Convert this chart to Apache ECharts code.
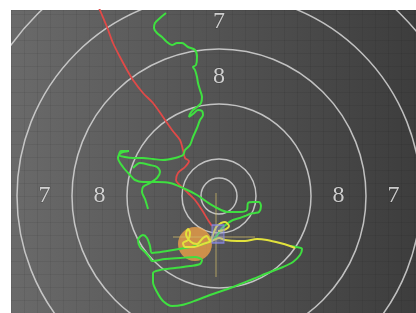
<!DOCTYPE html>
<html>
<head>
<meta charset="utf-8">
<script src="https://cdn.jsdelivr.net/npm/echarts@6/dist/echarts.min.js"></script>
<style>
html,body{margin:0;padding:0;background:#fff;}
#main{width:416px;height:313px;}
</style>
</head>
<body>
<div id="main"></div>
<script>
// target rings, offsets from the centre of the target (x right, y up)
var ringRadii = [18, 37, 92, 147, 202, 257];
var ringScores = [8, 7]; // label sits between ring i+2 and ring i+3

// approach trace (red)
var redTrace = [[-120,188],[-112,169],[-106,153],[-99,139],[-92,126],[-86,116],[-76,103],[-66,93],[-56,79],[-47,66],[-39,56],[-36,46],[-34,38],[-30,35],[-34,29],[-41,23],[-43,16],[-37,9],[-31,3],[-24,-4],[-17,-14],[-11,-24],[-7,-30]];

// aiming trace (green), split into pieces
var greenTop = [[-53,183],[-59,178],[-64,173],[-65,168],[-62,163],[-57,159],[-52,154],[-47,151],[-42,153],[-37,153],[-31,149],[-24,146],[-22,139],[-23,131],[-26,129],[-24,126],[-22,119],[-21,113],[-19,106],[-17,99],[-18,93],[-22,89],[-26,86],[-29,82],[-30,79],[-26,82],[-21,86],[-17,85],[-16,81],[-19,76],[-22,68],[-26,59],[-29,51],[-34,46],[-36,41],[-44,38],[-56,36],[-66,37],[-76,38],[-86,38],[-94,39],[-100,41],[-98,45],[-90,45]];
var greenMid = [[-90,45],[-98,43],[-101,38],[-96,29],[-89,21],[-84,16],[-76,14],[-62,14],[-49,13],[-36,8],[-22,1],[-12,-6],[-2,-12],[9,-16],[21,-16],[28,-14],[29,-7],[34,-6],[40,-6],[42,-10],[40,-16],[36,-17],[31,-18],[26,-20],[21,-22],[14,-24],[9,-27],[3,-32]];
var greenKnot = [[-86,28],[-79,33],[-69,31],[-62,29],[-59,24],[-62,18],[-69,13],[-76,9],[-77,4],[-74,-3],[-71,-13]];
var greenLow = [[3,-32],[-6,-44],[-19,-49],[-34,-52],[-52,-55],[-67,-57],[-69,-50],[-72,-42],[-76,-39],[-81,-44],[-79,-51],[-74,-56],[-69,-62],[-67,-65],[-54,-63],[-39,-62],[-24,-61],[-17,-64],[-19,-68],[-29,-70],[-44,-72],[-59,-74],[-66,-77],[-66,-86],[-62,-96],[-56,-105],[-47,-110],[-37,-109],[-22,-104],[-6,-98],[14,-91],[34,-83],[51,-76],[64,-71],[74,-66],[81,-59],[83,-53],[77,-51],[71,-50]];

// last second before the shot (yellow)
var yellowTrace = [[76,-52],[71,-50],[61,-47],[48,-44],[38,-43],[26,-45],[18,-45],[6,-44],[0,-42],[-7,-45],[-16,-48],[-26,-51],[-34,-51],[-36,-47],[-31,-44],[-29,-37],[-31,-33],[-33,-38],[-28,-46],[-22,-48],[-16,-42],[-12,-40],[-9,-45],[-5,-36],[-2,-30],[6,-26],[10,-30],[5,-34],[-1,-35]];

var groupCentre = [[-24,-48]];
var shotHole = [[-1,-38]];
var crossV = [[-3,3],[-3,-81]];
var crossH = [[-46,-41],[36,-41]];

// score labels go half way between rings
var labelData = [];
ringScores.forEach(function(s, i) {
	var r = (ringRadii[i+2] + ringRadii[i+3]) / 2;
	labelData.push([0, r, String(s)]);
	labelData.push([0, -r, String(s)]);
	labelData.push([-r, 0, String(s)]);
	labelData.push([r, 0, String(s)]);
});

function traceSeries(data, color, width) {
	return {
		type: 'line',
		data: data,
		showSymbol: false,
		smooth: 0.3,
		lineStyle: { color: color, width: width },
		z: 5
	};
}

var chart = echarts.init(document.getElementById('main'));
var option = {
	animation: false,
	backgroundColor: '#ffffff',
	grid: {
		left: 11, right: 0, top: 10, bottom: 0,
		show: true,
		borderWidth: 0,
		backgroundColor: new echarts.graphic.LinearGradient(0, 0, 1, 0, [
			{ offset: 0, color: '#6a6a6a' },
			{ offset: 1, color: '#3d3d3d' }
		])
	},
	xAxis: {
		type: 'value', min: -208, max: 197, interval: 13,
		axisLabel: { show: false }, axisLine: { show: false }, axisTick: { show: false },
		splitLine: { lineStyle: { color: 'rgba(0,0,0,0.06)', width: 1 } }
	},
	yAxis: {
		type: 'value', min: -117, max: 186, interval: 13,
		axisLabel: { show: false }, axisLine: { show: false }, axisTick: { show: false },
		splitLine: { lineStyle: { color: 'rgba(0,0,0,0.06)', width: 1 } }
	},
	series: [
		{
			type: 'custom',
			clip: true,
			data: ringRadii.map(function(r) { return [r, 0]; }),
			renderItem: function(params, api) {
				var c = api.coord([0, 0]);
				var r = api.size([api.value(0), 0])[0];
				return {
					type: 'circle',
					shape: { cx: c[0], cy: c[1], r: r },
					style: { fill: 'none', stroke: 'rgba(215,215,215,0.85)', lineWidth: 1.5 }
				};
			},
			z: 1
		},
		{
			type: 'scatter',
			data: labelData,
			symbolSize: 0,
			label: {
				show: true,
				position: 'inside',
				formatter: function(p) { return p.value[2]; },
				color: '#f0f0f0',
				fontFamily: 'Liberation Serif',
				fontSize: 24,
				textBorderColor: 'rgba(0,0,0,0.25)',
				textBorderWidth: 1
			},
			z: 2
		},
		{
			type: 'scatter',
			data: groupCentre,
			symbolSize: 34,
			itemStyle: { color: 'rgba(248,165,70,0.92)' },
			z: 3
		},
		{
			type: 'line', data: crossV, showSymbol: false,
			lineStyle: { color: 'rgba(205,185,105,0.75)', width: 1 }, z: 4
		},
		{
			type: 'line', data: crossH, showSymbol: false,
			lineStyle: { color: 'rgba(205,185,105,0.75)', width: 1 }, z: 4
		},
		traceSeries(redTrace, '#e04a48', 1.8),
		traceSeries(greenTop, '#3fe040', 2),
		traceSeries(greenMid, '#3fe040', 2),
		traceSeries(greenKnot, '#3fe040', 2),
		traceSeries(greenLow, '#3fe040', 2),
		traceSeries(yellowTrace, '#e2e23c', 2),
		{
			type: 'scatter',
			data: shotHole,
			symbol: 'rect',
			symbolSize: [12, 18],
			itemStyle: { color: 'rgba(150,150,235,0.45)', borderColor: '#8a8af0', borderWidth: 1.2 },
			z: 6
		}
	]
};
chart.setOption(option);
</script>
</body>
</html>
